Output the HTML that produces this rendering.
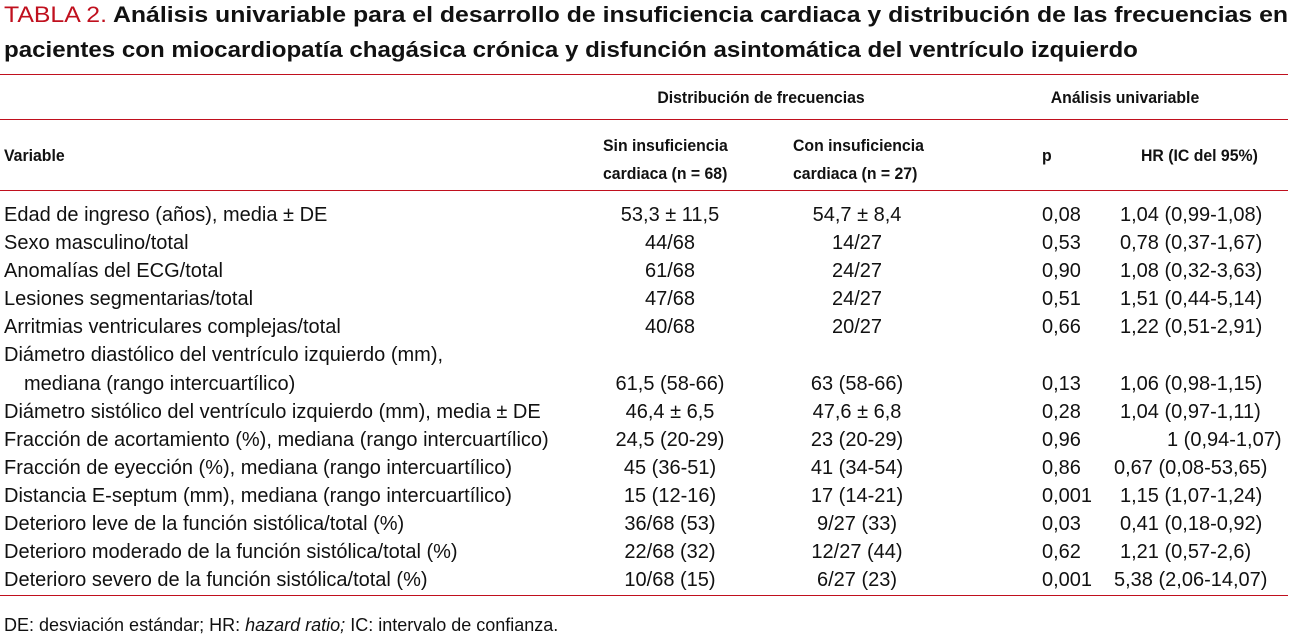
<!DOCTYPE html>
<html><head><meta charset="utf-8"><style>
body{margin:0;width:1301px;height:643px;background:#fff;position:relative;overflow:hidden;color:#111;}
.t{position:absolute;white-space:nowrap;}
.title{font-family:"Liberation Sans",sans-serif;font-weight:bold;font-size:22px;left:4px;transform:scaleX(1.095);transform-origin:0 0;}
.hd{font-family:"Liberation Sans Narrow","Liberation Sans",sans-serif;font-weight:bold;font-size:17px;}
.b{font-family:"Liberation Sans Narrow","Liberation Sans",sans-serif;font-size:20px;}
.line{position:absolute;left:0;width:1288px;height:1px;background:#c0101e;}
.c{transform:translateX(-50%);}
.hd.c{transform:translateX(-50%) scaleX(0.93);}
.hs{transform:scaleX(0.93);transform-origin:0 0;}
</style></head><body>
<div class="t title" style="top:2px;transform:scaleX(1.128)"><span style="color:#c0101e;font-weight:normal">TABLA 2.</span> Análisis univariable para el desarrollo de insuficiencia cardiaca y distribución de las frecuencias en</div>
<div class="t title" style="top:37px">pacientes con miocardiopatía chagásica crónica y disfunción asintomática del ventrículo izquierdo</div>
<div class="line" style="top:74px"></div>
<div class="t hd c" style="left:761px;top:88px">Distribución de frecuencias</div>
<div class="t hd c" style="left:1125px;top:88px">Análisis univariable</div>
<div class="line" style="top:119px"></div>
<div class="t hd hs" style="left:4px;top:146px">Variable</div>
<div class="t hd hs" style="left:603px;top:132px;line-height:28px">Sin insuficiencia<br>cardiaca (n = 68)</div>
<div class="t hd hs" style="left:793px;top:132px;line-height:28px">Con insuficiencia<br>cardiaca (n = 27)</div>
<div class="t hd hs" style="left:1042px;top:146px">p</div>
<div class="t hd hs" style="left:1141px;top:146px">HR (IC del 95%)</div>
<div class="line" style="top:190px"></div>
<div id="rows"></div>
<div class="line" style="top:595px"></div>
<div class="t b" style="left:4px;top:615px;font-size:18px">DE: desviación estándar; HR: <i>hazard ratio;</i> IC: intervalo de confianza.</div>
<script>
const variables=["Edad de ingreso (años), media ± DE","Sexo masculino/total","Anomalías del ECG/total","Lesiones segmentarias/total","Arritmias ventriculares complejas/total","Diámetro diastólico del ventrículo izquierdo (mm),|mediana (rango intercuartílico)","Diámetro sistólico del ventrículo izquierdo (mm), media ± DE","Fracción de acortamiento (%), mediana (rango intercuartílico)","Fracción de eyección (%), mediana (rango intercuartílico)","Distancia E-septum (mm), mediana (rango intercuartílico)","Deterioro leve de la función sistólica/total (%)","Deterioro moderado de la función sistólica/total (%)","Deterioro severo de la función sistólica/total (%)"];
const withoutHF=["53,3 ± 11,5","44/68","61/68","47/68","40/68","61,5 (58-66)","46,4 ± 6,5","24,5 (20-29)","45 (36-51)","15 (12-16)","36/68 (53)","22/68 (32)","10/68 (15)"];
const withHF=["54,7 ± 8,4","14/27","24/27","24/27","20/27","63 (58-66)","47,6 ± 6,8","23 (20-29)","41 (34-54)","17 (14-21)","9/27 (33)","12/27 (44)","6/27 (23)"];
const pValues=["0,08","0,53","0,90","0,51","0,66","0,13","0,28","0,96","0,86","0,001","0,03","0,62","0,001"];
const hrValues=["1,04 (0,99-1,08)","0,78 (0,37-1,67)","1,08 (0,32-3,63)","1,51 (0,44-5,14)","1,22 (0,51-2,91)","1,06 (0,98-1,15)","1,04 (0,97-1,11)","1 (0,94-1,07)","0,67 (0,08-53,65)","1,15 (1,07-1,24)","0,41 (0,18-0,92)","1,21 (0,57-2,6)","5,38 (2,06-14,07)"];
const host=document.getElementById('rows');
let y=204;
function add(txt,left,top,center,name){
  const d=document.createElement('div');
  d.className='t b'+(center?' c':'');
  d.style.left=left+'px';d.style.top=top+'px';d.textContent=txt;
  
  
  host.appendChild(d);
}
variables.forEach((v,i)=>{
  let parts=v.split('|');
  if(parts.length>1){add(parts[0],4,y,false,'variable-label');y+=29;add(parts[1],24,y,false,'variable-label');}
  else add(v,4,y,false,'variable-label');
  add(withoutHF[i],670,y,true,'value-without-hf');
  add(withHF[i],857,y,true,'value-with-hf');
  add(pValues[i],1042,y,false,'p-value');
  const hr=hrValues[i];
  const left=hr.startsWith('1 (')?1167:(hr.length>16?1114:1120);
  add(hr,left,y,false,'hr-value');
  y+=28;
});
</script>
</body></html>
